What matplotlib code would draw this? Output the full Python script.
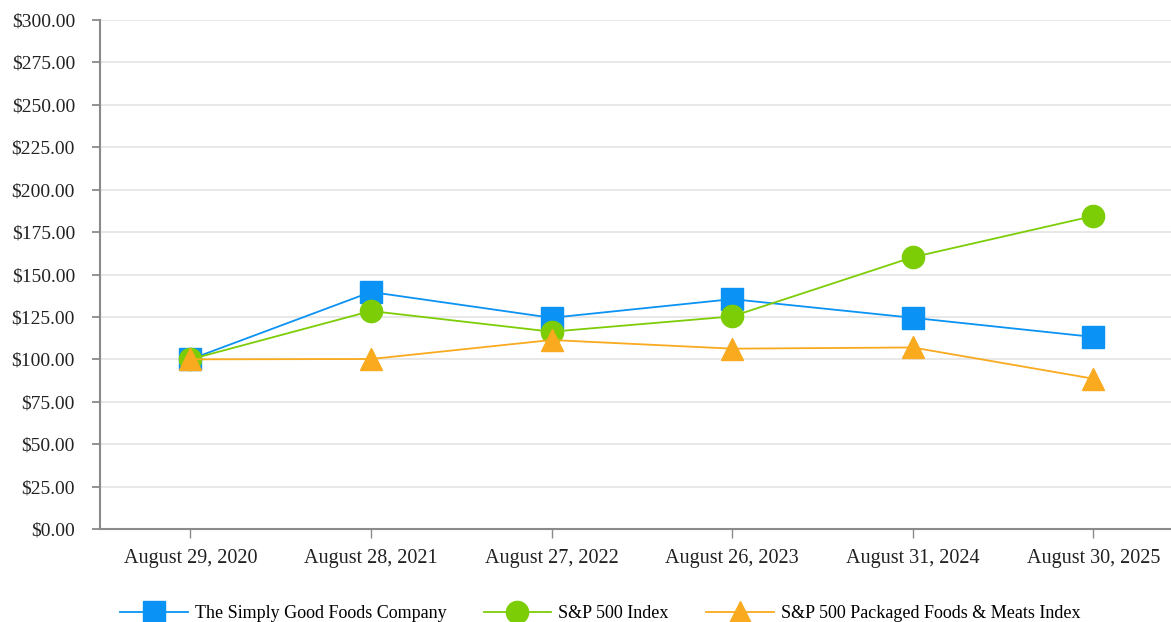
import numpy as np
import matplotlib
import matplotlib.pyplot as plt

matplotlib.rcParams['font.family'] = 'serif'
matplotlib.rcParams['font.serif'] = ['Liberation Serif', 'DejaVu Serif']

dates = ['August 29, 2020', 'August 28, 2021', 'August 27, 2022',
         'August 26, 2023', 'August 31, 2024', 'August 30, 2025']
simply_good = [100.0, 139.7, 124.5, 135.5, 124.5, 113.2]
sp500 = [100.0, 128.5, 116.3, 125.3, 160.2, 184.5]
packaged = [100.0, 100.2, 111.4, 106.3, 107.0, 88.6]

gray = '#8a8a8a'
x = np.arange(len(dates))

fig = plt.figure(figsize=(11.71, 6.22), dpi=100)
ax = fig.add_axes([0.0854, 0.1495, 0.9146, 0.8183])

ax.plot(x, simply_good, color='#0a93f4', lw=1.3, marker='s', ms=16.5,
        label='The Simply Good Foods Company', zorder=3)
ax.plot(x, sp500, color='#7dcd06', lw=1.3, marker='o', ms=16,
        label='S&P 500 Index', zorder=4)
ax.plot(x, packaged, color='#f9aa1f', lw=1.3, marker='^', ms=16.5,
        label='S&P 500 Packaged Foods & Meats Index', zorder=5)

ax.set_xlim(-0.5, 5.43)
ax.set_ylim(0, 300)
ax.set_yticks(np.arange(0, 301, 25))
ax.set_yticklabels(['$%.2f' % v for v in np.arange(0, 301, 25)])
ax.set_xticks(x)
ax.set_xticklabels(dates)

ax.grid(axis='y', color='#e6e6e6', lw=1.3)
ax.set_axisbelow(True)
for s in ['top', 'right']:
    ax.spines[s].set_visible(False)
for s in ['left', 'bottom']:
    ax.spines[s].set_color(gray)
    ax.spines[s].set_linewidth(1.5)

ax.tick_params(axis='y', length=6, width=1.3, color=gray, labelsize=14, pad=12, labelcolor='#222222')
ax.tick_params(axis='x', length=6.5, width=1.0, color=gray, labelsize=14.5, pad=8, labelcolor='#222222')

ax.legend(loc='center', bbox_to_anchor=(0.467, -0.166), ncol=3, frameon=False,
          fontsize=13, handlelength=3.75, columnspacing=2.05, handletextpad=0.4)

plt.savefig('out.png', dpi=100)
